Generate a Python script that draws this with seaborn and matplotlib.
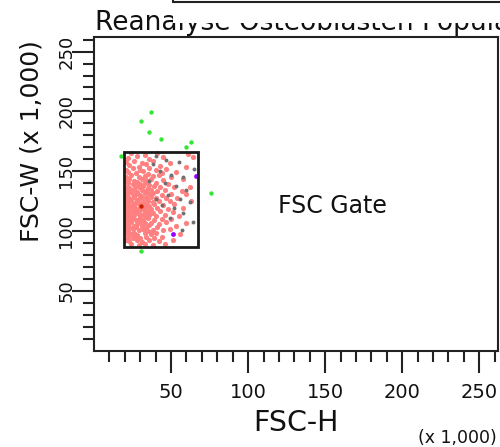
import matplotlib
matplotlib.use("Agg")
import matplotlib.pyplot as plt
import seaborn as sns
import pandas as pd
from matplotlib.patches import Rectangle
from matplotlib.lines import Line2D

# ---------------- data (values in thousands) ----------------
title = "Reanalyse Osteoblasten Population"
x_label = "FSC-H"
y_label = "FSC-W (x 1,000)"
x_unit = "(x 1,000)"
gate_label = "FSC Gate"
axis_max = 262.144
major_ticks = [50, 100, 150, 200, 250]
minor_ticks = [10, 20, 30, 40, 60, 70, 80, 90, 110, 120, 130, 140, 160, 170,
               180, 190, 210, 220, 230, 240, 260]
gate_x = [19.5, 67.5]
gate_y = [87.0, 166.5]
gate_text_pos = (154.5, 121.0)

red_pts = [
    (24, 165.5), (33, 164), (41, 165), (61, 164.5),
    (22, 161), (28, 162.5), (36, 160.5), (45, 161.8), (64.5, 162),
    (21, 157.5), (26, 158.8), (31, 157.2), (38, 158.5), (49, 157),
    (23, 155.2), (29, 154), (34, 155.8), (43, 154.5), (60, 153.8),
    (20.5, 151.5), (25, 152.8), (30, 151.2), (36, 152.5), (40, 150.8), (47, 152.1),
    (22, 149.4), (27, 148.2), (32, 149.9), (35, 147.8), (44, 148.9), (53, 149.6),
    (21, 145.6), (24, 146.9), (29, 145.1), (33, 146.4), (38, 145.8), (42, 147), (50, 145.3),
    (20.5, 142.7), (23, 143.8), (26, 142.2), (31, 143.5), (34, 142.9), (37, 144), (45, 142.4), (58, 143.2),
    (22, 140.3), (25, 139.2), (28, 140.8), (30, 139.5), (33, 140.1), (36, 139), (40, 140.6), (48, 139.7),
    (20.5, 137.1), (23, 136.3), (27, 137.8), (29, 136.6), (32, 137.4), (35, 136.1), (39, 137.9), (43, 136.8), (52, 137.3), (62, 136.5),
    (21, 134.2), (24, 133.4), (26, 134.9), (28, 133.1), (31, 134.6), (34, 133.8), (37, 134.3), (41, 133.2), (46, 134.7), (57, 133.9),
    (20.5, 130.6), (22, 131.8), (25, 130.9), (27, 131.3), (30, 130.2), (33, 131.6), (36, 130.7), (38, 131.9), (44, 130.4), (50, 131.2), (60, 130.8),
    (21, 128.3), (23, 127.5), (26, 128.8), (29, 127.2), (31, 128.5), (34, 127.9), (37, 128.6), (40, 127.4), (47, 128.1), (54, 127.7),
    (20.5, 125.4), (22, 124.6), (24, 125.9), (27, 124.3), (28, 125.7), (32, 124.8), (35, 125.2), (38, 124.5), (42, 125.6), (49, 124.9), (63, 125.3),
    (21, 122.2), (23, 121.4), (25, 122.8), (26, 121.1), (29, 122.5), (31, 121.7), (33, 122.9), (36, 121.3), (39, 122.4), (45, 121.8), (52, 122.6),
    (20.5, 119.3), (22, 118.5), (24, 119.8), (27, 118.2), (30, 119.6), (32, 118.7), (34, 119.1), (37, 118.4), (41, 119.7), (48, 118.9), (58, 119.4),
    (21, 116.1), (23, 115.3), (25, 116.7), (28, 115.5), (29, 116.9), (33, 115.8), (35, 116.4), (38, 115.2), (43, 116.6), (51, 115.9),
    (20.5, 112.8), (22, 113.6), (24, 112.4), (26, 113.9), (30, 112.6), (31, 113.3), (34, 112.1), (36, 113.7), (40, 112.9), (46, 113.4), (55, 112.5),
    (21, 110.2), (23, 109.4), (25, 110.8), (27, 109.1), (29, 110.5), (32, 109.7), (35, 110.9), (39, 109.3), (44, 110.4), (50, 109.8),
    (20.5, 107.3), (22, 106.5), (24, 107.8), (28, 106.2), (30, 107.6), (33, 106.8), (37, 107.1), (42, 106.4), (47, 107.5), (60, 106.9),
    (21, 104.1), (23, 103.3), (26, 104.7), (27, 103.6), (31, 104.4), (34, 103.1), (36, 104.9), (41, 103.8), (53, 104.3),
    (20.5, 101.2), (22, 100.4), (25, 101.8), (29, 100.7), (32, 101.5), (35, 100.2), (38, 101.1), (45, 100.9), (49, 101.6),
    (21, 98.3), (24, 97.5), (26, 98.9), (28, 97.2), (33, 98.6), (37, 97.8), (40, 98.4), (56, 97.6),
    (22, 95.2), (25, 94.4), (27, 95.8), (30, 94.7), (34, 95.5), (39, 94.2), (44, 95.1),
    (21, 92.3), (23, 91.5), (28, 92.8), (31, 91.2), (36, 92.6), (42, 91.8), (51, 92.4),
    (24, 89.2), (29, 88.6), (33, 89.7), (38, 88.3), (46, 89.5),
]
gray_pts = [
    (40, 163), (47, 159.5), (55, 157.5), (43, 150.5), (50, 147), (58, 145),
    (46, 140.5), (53, 137.5), (60, 134), (48, 130.5), (56, 127), (62, 124.5),
    (44, 122), (52, 119), (58, 115.5), (49, 111), (64, 108), (40, 126.5),
    (36, 142), (57, 101), (38, 156), (65, 152),
]
green_pts = [
    (37.2, 199.9), (30.7, 191.6), (35.7, 183.2), (43.3, 176.9), (62.8, 174.9),
    (59.5, 170.7), (17.5, 162.9), (76.0, 132.0), (30.5, 83.8),
]
purple_pts = [(66.0, 146.2), (51.3, 97.7)]
darkred_pts = [(30.3, 121.0)]

# ---------------- figure ----------------
sns.set_theme(style="white")
plt.rcParams['font.family'] = ['DejaVu Sans']

W, H = 500, 447
fig = plt.figure(figsize=(W / 100, H / 100), dpi=100)
fig.patch.set_facecolor("white")
ax = fig.add_axes([94 / W, 96 / H, 404 / W, 314 / H])
ax.set_facecolor("white")

def frame(pts):
    return pd.DataFrame(pts, columns=["x", "y"])

sns.scatterplot(data=frame(red_pts), x="x", y="y", color="#ff8080", s=14,
                linewidth=0, ax=ax, legend=False, zorder=2)
sns.scatterplot(data=frame(gray_pts), x="x", y="y", color="#707070", s=8,
                linewidth=0, ax=ax, legend=False, zorder=3)
sns.scatterplot(data=frame(green_pts), x="x", y="y", color="#33e633", s=10,
                linewidth=0, ax=ax, legend=False, zorder=3)
sns.scatterplot(data=frame(purple_pts), x="x", y="y", color="#9900ff", s=12,
                linewidth=0, ax=ax, legend=False, zorder=3)
sns.scatterplot(data=frame(darkred_pts), x="x", y="y", color="#cc2200", s=10,
                linewidth=0, ax=ax, legend=False, zorder=3)

ax.add_patch(Rectangle((gate_x[0], gate_y[0]), gate_x[1] - gate_x[0],
                       gate_y[1] - gate_y[0], fill=False, edgecolor="#1a1a1a",
                       linewidth=2.0, zorder=4))
ax.text(gate_text_pos[0], gate_text_pos[1], gate_label, fontsize=17,
        ha="center", va="center", color="#111111")

ax.set_xlim(0, axis_max)
ax.set_ylim(0, axis_max)
ax.set_xlabel("")
ax.set_ylabel("")

ax.set_xticks(major_ticks, labels=[str(v) for v in major_ticks])
ax.set_xticks(minor_ticks, minor=True)
ax.set_yticks(major_ticks, labels=[str(v) for v in major_ticks])
ax.set_yticks(minor_ticks, minor=True)

for sp in ax.spines.values():
    sp.set_visible(True)
    sp.set_linewidth(1.5)
    sp.set_color("#222222")

ax.tick_params(which="both", direction="out", bottom=True, left=True,
               top=False, right=False, color="#222222", width=1.5)
ax.tick_params(which="major", length=15.5)
ax.tick_params(which="minor", length=8.2)
ax.tick_params(axis="x", which="major", labelsize=14, pad=7.5, labelcolor="#111111")
ax.tick_params(axis="y", which="major", labelsize=13, pad=-2, labelrotation=90,
               labelcolor="#111111")
for lab in ax.get_yticklabels():
    lab.set_va("center")

# axis labels and title as figure text
fig.text(32 / W, 1 - 141.5 / H, y_label, rotation=90, ha="center", va="center",
         fontsize=18, color="#111111")
fig.text(296 / W, (H - 430.7) / H, x_label, ha="center", va="baseline",
         fontsize=20.5, color="#111111")
fig.text(497 / W, (H - 443) / H, x_unit, ha="right", va="baseline",
         fontsize=12.5, color="#111111")
fig.text(95 / W, (H - 29.5) / H, title, ha="left", va="baseline",
         fontsize=19, color="#111111")

# overlapping window box at the top that hides part of the title
fig.add_artist(Rectangle((173 / W, (H - 22.5) / H), 1.0, 1.0,
                         transform=fig.transFigure, facecolor="white",
                         edgecolor="none", zorder=10))
fig.add_artist(Line2D([173 / W, 1.0], [(H - 1.5) / H] * 2,
                      transform=fig.transFigure, color="#222222",
                      linewidth=1.5, zorder=11))
fig.add_artist(Line2D([173 / W] * 2, [(H - 2.2) / H, 1.0],
                      transform=fig.transFigure, color="#222222",
                      linewidth=1.5, zorder=11))

fig.savefig("out.png", dpi=100)
